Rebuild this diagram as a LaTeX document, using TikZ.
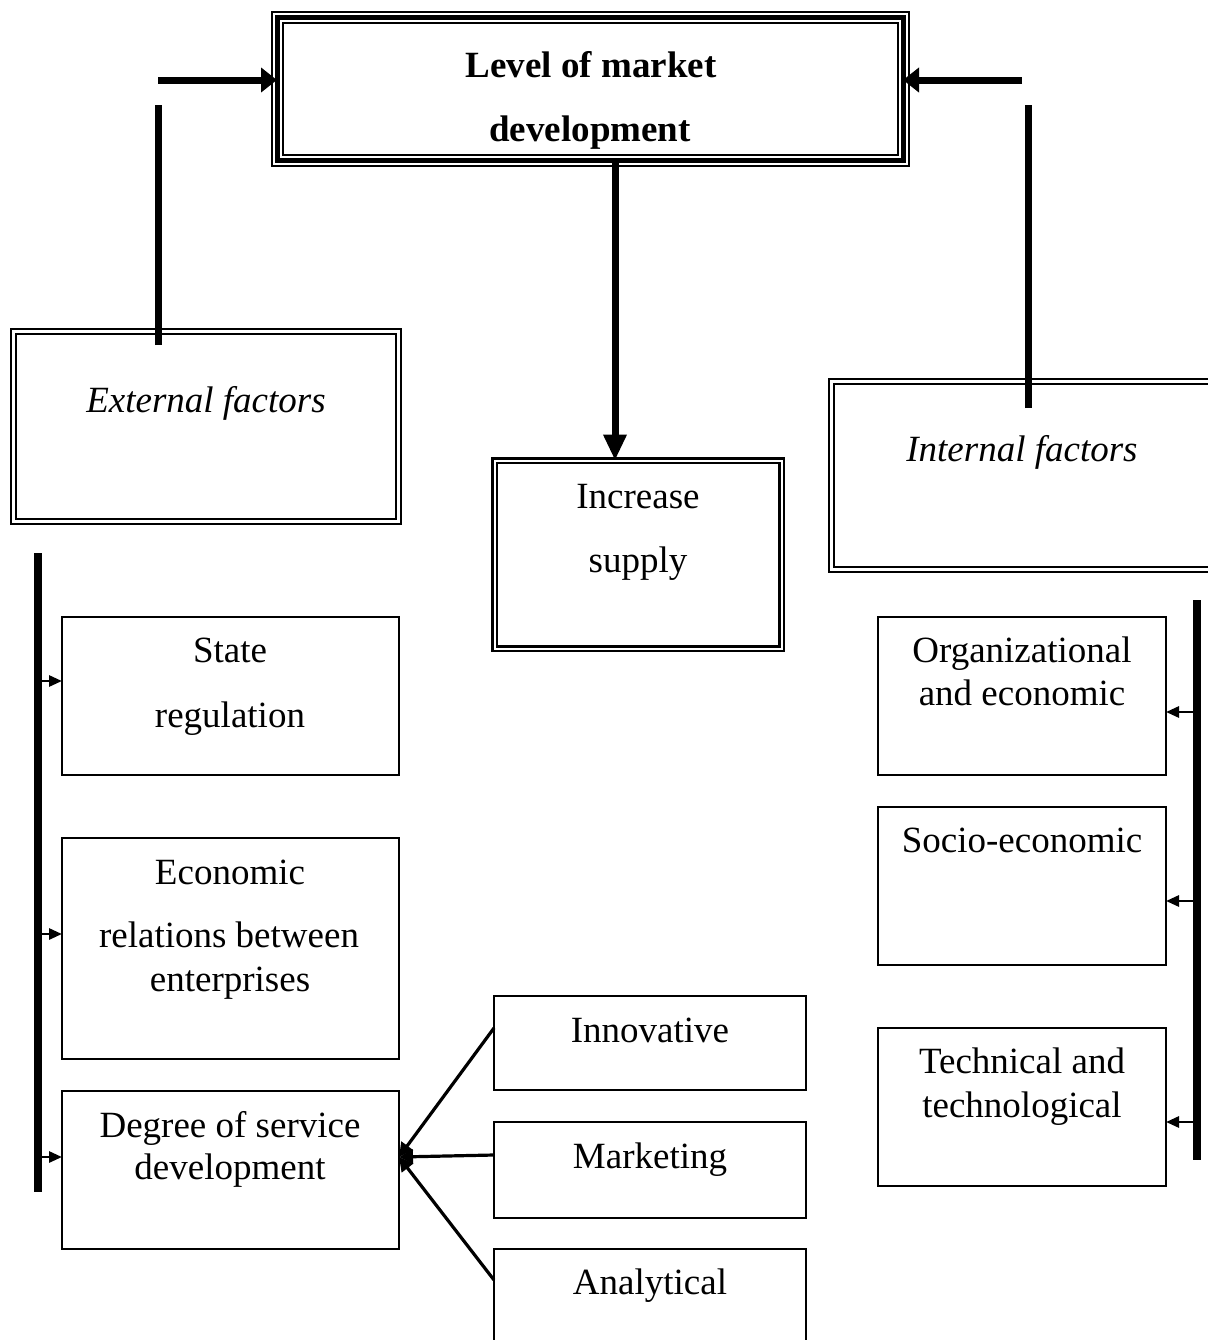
\documentclass[tikz,border=0pt]{standalone}
\usepackage{fontspec}
\setmainfont{Liberation Serif}
\usetikzlibrary{arrows.meta}
\begin{document}
\begin{tikzpicture}[x=0.5pt,y=-0.5pt,
  txt/.style={font=\fontsize{18.5}{22}\selectfont, inner sep=0pt, anchor=base},
  plainbox/.style={draw, line width=1pt, inner sep=0pt, outer sep=0pt},
  dblbox/.style={draw, line width=1.1pt, double, double distance=1.3pt, inner sep=0pt, outer sep=0pt},
  tribox/.style={draw, line width=6.5pt, inner sep=0pt, outer sep=0pt,
    postaction={draw, white, line width=4.5pt},
    postaction={draw, black, line width=2.5pt}},
  bar/.style={line width=4pt},
  thickline/.style={line width=3.5pt},
  bigarrow/.style={line width=3.5pt, -{Triangle[length=8pt,width=12pt]}},
  downarrow/.style={line width=3.5pt, -{Triangle[length=13pt,width=11pt]}},
  smallarrow/.style={line width=1.4pt, -{Triangle[length=6.5pt,width=5.5pt]}},
  convarrow/.style={line width=1.6pt, -{Triangle[length=7pt,width=7pt]}}
]
\useasboundingbox (0,0) rectangle (1208,1340);
\clip (0,0) rectangle (1208,1340);

% boxes
\node[tribox, minimum width=313pt, minimum height=71.5pt] (top) at (590,88.5) {};
\node[dblbox, minimum width=192.5pt, minimum height=95pt] (ext) at (206,426.5) {};
\node[dblbox, minimum width=199.25pt, minimum height=94pt] (int) at (1030.75,475.5) {};
\node[dblbox, line width=1.2pt, double distance=1pt, minimum width=143.5pt, minimum height=94pt] (inc) at (638,554.5) {};

\node[plainbox, minimum width=168.5pt, minimum height=79pt] (state) at (230.5,696) {};
\node[plainbox, minimum width=168.5pt, minimum height=110.5pt] (econ) at (230.5,948.5) {};
\node[plainbox, minimum width=168.5pt, minimum height=79pt] (degree) at (230.5,1170) {};

\node[plainbox, minimum width=156pt, minimum height=47pt] (innov) at (650,1043) {};
\node[plainbox, minimum width=156pt, minimum height=48pt] (mkt) at (650,1170) {};
\node[plainbox, minimum width=156pt, minimum height=55.5pt] (anal) at (650,1304.5) {};

\node[plainbox, minimum width=144pt, minimum height=79pt] (org) at (1022,696) {};
\node[plainbox, minimum width=144pt, minimum height=79pt] (socio) at (1022,886) {};
\node[plainbox, minimum width=144pt, minimum height=79pt] (tech) at (1022,1107) {};

% texts
\node[txt, font=\fontsize{18.5}{22}\selectfont\bfseries] (t1a) at (591,77) {Level of market};
\node[txt, font=\fontsize{18.5}{22}\selectfont\bfseries] (t1b) at (590,141) {development};
\node[txt, font=\fontsize{18.5}{22}\selectfont\itshape] (tExt) at (206,412) {External factors};
\node[txt, font=\fontsize{18.5}{22}\selectfont\itshape] (tInt) at (1022,461) {Internal factors};
\node[txt] (tInc1) at (638,508) {Increase};
\node[txt] (tInc2) at (638,572) {supply};
\node[txt] (tSt1) at (230,662) {State};
\node[txt] (tSt2) at (230,727) {regulation};
\node[txt] (tEc1) at (230,884) {Economic};
\node[txt] (tEc2) at (229,947) {relations between};
\node[txt] (tEc3) at (230,991) {enterprises};
\node[txt] (tDg1) at (230,1137) {Degree of service};
\node[txt] (tDg2) at (230,1179) {development};
\node[txt] (tIn) at (650,1042) {Innovative};
\node[txt] (tMk) at (650,1168) {Marketing};
\node[txt] (tAn) at (650,1294) {Analytical};
\node[txt] (tOr1) at (1022,662) {Organizational};
\node[txt] (tOr2) at (1022,705) {and economic};
\node[txt] (tSo) at (1022,852) {Socio-economic};
\node[txt] (tTe1) at (1022,1073) {Technical and};
\node[txt] (tTe2) at (1022,1117) {technological};

% top connectors
\coordinate (lv1) at (158,345);
\coordinate (lv2) at (158,105);
\coordinate (lh1) at (158,80);
\draw[thickline] (lv1) -- (lv2);
\draw[bigarrow] (lh1) -- (lh1 -| top.west);
\coordinate (rv1) at (1028,408);
\coordinate (rv2) at (1028,105);
\coordinate (rh1) at (1022,80);
\draw[thickline] (rv1) -- (rv2);
\draw[bigarrow] (rh1) -- (rh1 -| top.east);
\coordinate (c1) at (615,160);
\draw[downarrow] (c1) -- (c1 |- inc.north);

% left bar
\coordinate (lb1) at (38,553);
\coordinate (lb2) at (38,1192);
\draw[bar] (lb1) -- (lb2);
\coordinate (la1) at (40,681);
\coordinate (la2) at (40,934);
\coordinate (la3) at (40,1157);
\draw[smallarrow] (la1) -- (la1 -| state.west);
\draw[smallarrow] (la2) -- (la2 -| econ.west);
\draw[smallarrow] (la3) -- (la3 -| degree.west);

% right bar
\coordinate (rb1) at (1197,600);
\coordinate (rb2) at (1197,1160);
\draw[bar] (rb1) -- (rb2);
\coordinate (ra1) at (1194,712);
\coordinate (ra2) at (1194,901);
\coordinate (ra3) at (1194,1122);
\draw[smallarrow] (ra1) -- (ra1 -| org.east);
\draw[smallarrow] (ra2) -- (ra2 -| socio.east);
\draw[smallarrow] (ra3) -- (ra3 -| tech.east);

% converging arrows
\coordinate (conv) at ([yshift=6.5pt]degree.east);
\draw[convarrow] ([yshift=7.5pt]innov.west) -- (conv);
\draw[convarrow] ([yshift=7.5pt]mkt.west) -- (conv);
\draw[convarrow] ([yshift=12.25pt]anal.west) -- (conv);
\end{tikzpicture}
\end{document}
